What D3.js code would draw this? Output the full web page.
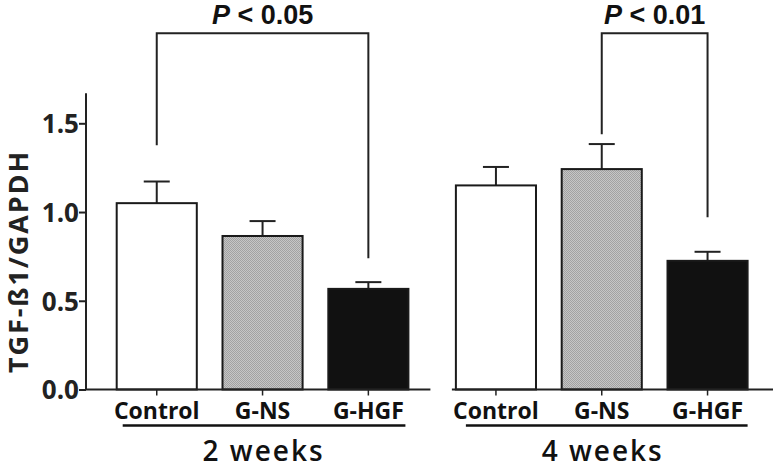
<!DOCTYPE html>
<html>
<head>
<meta charset="utf-8">
<script src="https://cdn.jsdelivr.net/npm/d3@7"></script>
<style>
  html, body { margin: 0; padding: 0; background: #fff; }
  svg { display: block; }
</style>
</head>
<body>
<svg id="chart" width="780" height="468"></svg>
<script>
// ---- data ----
const groups = ["2 weeks", "4 weeks"];
const categories = ["Control", "G-NS", "G-HGF"];
const means2w = [1.05, 0.865, 0.567];
const errors2w = [0.122, 0.084, 0.038];
const means4w = [1.15, 1.242, 0.725];
const errors4w = [0.104, 0.141, 0.051];
const yTicks = [0, 0.5, 1.0, 1.5];
const yTitle = "TGF-ß1/GAPDH";
const pLabels = ["< 0.05", "< 0.01"];
const pGroups = ["2 weeks", "4 weeks"];
const pFrom = ["Control", "G-NS"];
const pTo = ["G-HGF", "G-HGF"];
const pTop = [2.008, 2.008];
const pFromEnd = [1.376, 1.438];
const pToEnd = [0.739, 0.970];

const means = [means2w, means4w];
const errors = [errors2w, errors4w];

const svg = d3.select("#chart");

// defs: textured grey fill
const defs = svg.append("defs");
const pat = defs.append("pattern").attr("id", "grey").attr("width", 2).attr("height", 2)
  .attr("patternUnits", "userSpaceOnUse");
pat.append("rect").attr("width", 2).attr("height", 2).attr("fill", "#c6c6c6");
pat.append("rect").attr("width", 1).attr("height", 1).attr("fill", "#a2a2a2");
pat.append("rect").attr("x", 1).attr("y", 1).attr("width", 1).attr("height", 1).attr("fill", "#a2a2a2");

const fills = { "Control": "#ffffff", "G-NS": "url(#grey)", "G-HGF": "#111111" };

const axisX = 86;
const y = d3.scaleLinear().domain([0, 1.5]).range([389.5, 123.3]);
const outer = d3.scaleBand().domain(groups).range([116.7, 747.6]).paddingInner(0.14).paddingOuter(0);
const inner = d3.scaleBand().domain(categories).range([0, outer.bandwidth()]).paddingInner(0.243).paddingOuter(0);

const cx = (g, c) => outer(g) + inner(c) + inner.bandwidth() / 2;

// y axis
const yAxis = d3.axisLeft(y).tickValues(yTicks).tickFormat(d3.format(".1f")).tickSize(7).tickSizeOuter(0);
const gy = svg.append("g").attr("transform", `translate(${axisX},0)`).call(yAxis);
gy.select(".domain").remove();
gy.selectAll(".tick line").attr("stroke", "#222").attr("stroke-width", 2);
gy.selectAll(".tick text")
  .attr("x", -7).attr("dy", "0.36em")
  .attr("font-family", "'Open Sans', sans-serif").attr("font-weight", 700)
  .attr("font-size", 26).attr("fill", "#222");
svg.append("line")
  .attr("x1", axisX).attr("x2", axisX)
  .attr("y1", y(0)).attr("y2", y(1.67))
  .attr("stroke", "#222").attr("stroke-width", 2);

// y title
svg.append("text")
  .attr("transform", `translate(28,${(y(0) + y(1.5)) / 2 + 6}) rotate(-90)`)
  .attr("text-anchor", "middle")
  .attr("font-family", "'Open Sans', sans-serif").attr("font-weight", 700)
  .attr("font-size", 27).attr("fill", "#222")
  .attr("textLength", 221).attr("lengthAdjust", "spacing")
  .text(yTitle);

// bars
groups.forEach((g, gi) => {
  const gg = svg.append("g");
  categories.forEach((c, ci) => {
    const v = means[gi][ci], e = errors[gi][ci];
    const x0 = outer(g) + inner(c);
    const xc = cx(g, c);
    gg.append("line").attr("x1", xc).attr("x2", xc).attr("y1", y(v)).attr("y2", y(v + e))
      .attr("stroke", "#222").attr("stroke-width", 2);
    gg.append("line").attr("x1", xc - 13).attr("x2", xc + 13).attr("y1", y(v + e)).attr("y2", y(v + e))
      .attr("stroke", "#222").attr("stroke-width", 2);
    gg.append("rect")
      .attr("x", x0).attr("y", y(v))
      .attr("width", inner.bandwidth()).attr("height", y(0) - y(v))
      .attr("fill", fills[c]).attr("stroke", "#1a1a1a").attr("stroke-width", 2);
  });

  // category axis
  const ax = d3.axisBottom(inner).tickSize(6).tickSizeOuter(0);
  const ga = svg.append("g").attr("transform", `translate(${outer(g)},${y(0)})`).call(ax);
  ga.select(".domain").remove();
  ga.selectAll(".tick line").attr("stroke", "#222").attr("stroke-width", 1.5);
  ga.selectAll(".tick text")
    .attr("y", 29).attr("dy", 0)
    .attr("font-family", "'Open Sans', sans-serif").attr("font-weight", 700)
    .attr("font-size", 23).attr("fill", "#111");

  // underline
  svg.append("line")
    .attr("x1", outer(g) + (gi === 0 ? 6 : 10)).attr("x2", outer(g) + outer.bandwidth() - (gi === 0 ? 3 : 0))
    .attr("y1", 425.5).attr("y2", 425.5)
    .attr("stroke", "#111").attr("stroke-width", 2.5);

  // group label
  svg.append("text")
    .attr("x", outer(g) + outer.bandwidth() / 2).attr("y", 460.5)
    .attr("text-anchor", "middle")
    .attr("font-family", "'Open Sans', sans-serif").attr("font-weight", 600)
    .attr("font-size", 28).attr("fill", "#111")
    .attr("textLength", 120).attr("lengthAdjust", "spacing")
    .text(g);
});

// baseline (two segments)
svg.append("line").attr("x1", axisX - 1).attr("x2", outer(groups[0]) + outer.bandwidth() + 22)
  .attr("y1", y(0)).attr("y2", y(0)).attr("stroke", "#222").attr("stroke-width", 2);
svg.append("line").attr("x1", outer(groups[1]) - 4).attr("x2", 773)
  .attr("y1", y(0)).attr("y2", y(0)).attr("stroke", "#222").attr("stroke-width", 2);

// significance brackets
pLabels.forEach((lab, i) => {
  const g = pGroups[i];
  const xa = cx(g, pFrom[i]), xb = cx(g, pTo[i]);
  const yt = y(pTop[i]);
  svg.append("path")
    .attr("d", `M${xa},${y(pFromEnd[i])}V${yt}H${xb}V${y(pToEnd[i])}`)
    .attr("fill", "none").attr("stroke", "#222").attr("stroke-width", 2);
  const t = svg.append("text")
    .attr("x", (xa + xb) / 2).attr("y", 23.5)
    .attr("text-anchor", "middle")
    .attr("font-family", "'Liberation Sans', Arial, sans-serif").attr("font-weight", 700)
    .attr("font-size", 27).attr("fill", "#111");
  t.append("tspan").attr("font-style", "italic").text("P");
  t.append("tspan").text(" " + lab);
});
</script>
</body>
</html>
